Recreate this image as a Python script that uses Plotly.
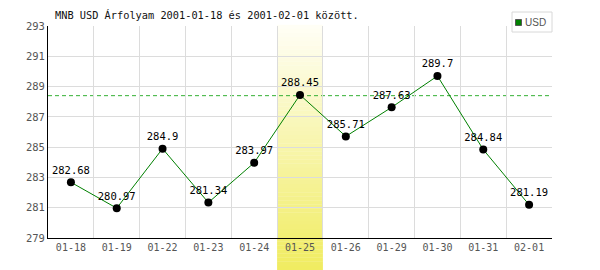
import plotly.graph_objects as go

dates = ["01-18", "01-19", "01-22", "01-23", "01-24", "01-25", "01-26", "01-29", "01-30", "01-31", "02-01"]
usd = [282.68, 280.97, 284.9, 281.34, 283.97, 288.45, 285.71, 287.63, 289.7, 284.84, 281.19]
labels = ["282.68", "280.97", "284.9", "281.34", "283.97", "288.45", "285.71", "287.63", "289.7", "284.84", "281.19"]
ref_level = 288.4
highlight_index = 5
y_ticks = [279, 281, 283, 285, 287, 289, 291, 293]

W, H = 600, 270
L, R, T, B = 48, 48, 26, 32
pw, ph = W - L - R, H - T - B

def px_x(p):
    return (p - L) / pw

def px_y(p):
    return (H - B - p) / ph

xs = list(range(len(dates)))
mono = "DejaVu Sans Mono"

fig = go.Figure()
fig.add_trace(go.Scatter(
    x=xs, y=usd, mode="lines+markers+text",
    line=dict(color="#008000", width=1),
    marker=dict(color="black", size=8),
    text=labels, textposition="top center",
    textfont=dict(family=mono, size=10.5, color="black"),
    cliponaxis=False, showlegend=False, hoverinfo="skip",
))

shapes = []
# gradient highlight band
n = 60
top, bot = px_y(25), px_y(270)
c0 = (255, 254, 246)
c1 = (240, 236, 96)
for i in range(n):
    f = (i + 0.5) / n
    col = tuple(round(c0[k] + (c1[k] - c0[k]) * f) for k in range(3))
    y0 = top + (bot - top) * i / n
    y1 = top + (bot - top) * (i + 1) / n
    shapes.append(dict(type="rect", xref="x", yref="paper",
                       x0=highlight_index - 0.5, x1=highlight_index + 0.5,
                       y0=y1, y1=y0 + 0.001, line=dict(width=0),
                       fillcolor="rgb(%d,%d,%d)" % col, layer="between"))
# reference dashed line
shapes.append(dict(type="line", xref="paper", yref="y", x0=0, x1=1,
                   y0=ref_level, y1=ref_level,
                   line=dict(color="#33b033", width=1, dash="4px,3px"), layer="between"))
# legend box
shapes.append(dict(type="rect", xref="paper", yref="paper",
                   x0=px_x(512), x1=px_x(552), y0=px_y(32), y1=px_y(12),
                   line=dict(color="#d8d8d8", width=1), fillcolor="white", layer="above"))
shapes.append(dict(type="rect", xref="paper", yref="paper",
                   x0=px_x(515.5), x1=px_x(521.5), y0=px_y(25.5), y1=px_y(19.5),
                   line=dict(color="#555555", width=1), fillcolor="#008000", layer="above"))

annotations = [
    dict(text="MNB USD Árfolyam 2001-01-18 és 2001-02-01 között.",
         xref="paper", yref="paper", x=px_x(53), y=px_y(15),
         xanchor="left", yanchor="middle", showarrow=False,
         font=dict(family=mono, size=10.3, color="#111111")),
    dict(text="USD", xref="paper", yref="paper", x=px_x(523), y=px_y(22.5),
         xanchor="left", yanchor="middle", showarrow=False,
         font=dict(family="Liberation Sans", size=10, color="#555555")),
]

fig.update_layout(
    width=W, height=H, margin=dict(l=L, r=R, t=T, b=B),
    paper_bgcolor="white", plot_bgcolor="white",
    shapes=shapes, annotations=annotations, showlegend=False,
    xaxis=dict(range=[-0.5, len(dates) - 0.5], tickmode="array", tickvals=xs, ticktext=dates,
               showgrid=False, zeroline=False, showline=True, linecolor="black", linewidth=1,
               ticks="", tickfont=dict(family=mono, size=10, color="#555555"),
               minor=dict(tickmode="array", tickvals=[i + 0.5 for i in range(-1, len(dates))],
                          showgrid=True, gridcolor="#dcdcdc", gridwidth=1, ticks="")),
    yaxis=dict(range=[279, 293], tickmode="array", tickvals=y_ticks,
               showgrid=True, gridcolor="#dcdcdc", gridwidth=1, zeroline=False,
               showline=True, linecolor="black", linewidth=1, ticks="",
               tickfont=dict(family=mono, size=10.5, color="#555555")),
)

fig.write_html("out.html")
